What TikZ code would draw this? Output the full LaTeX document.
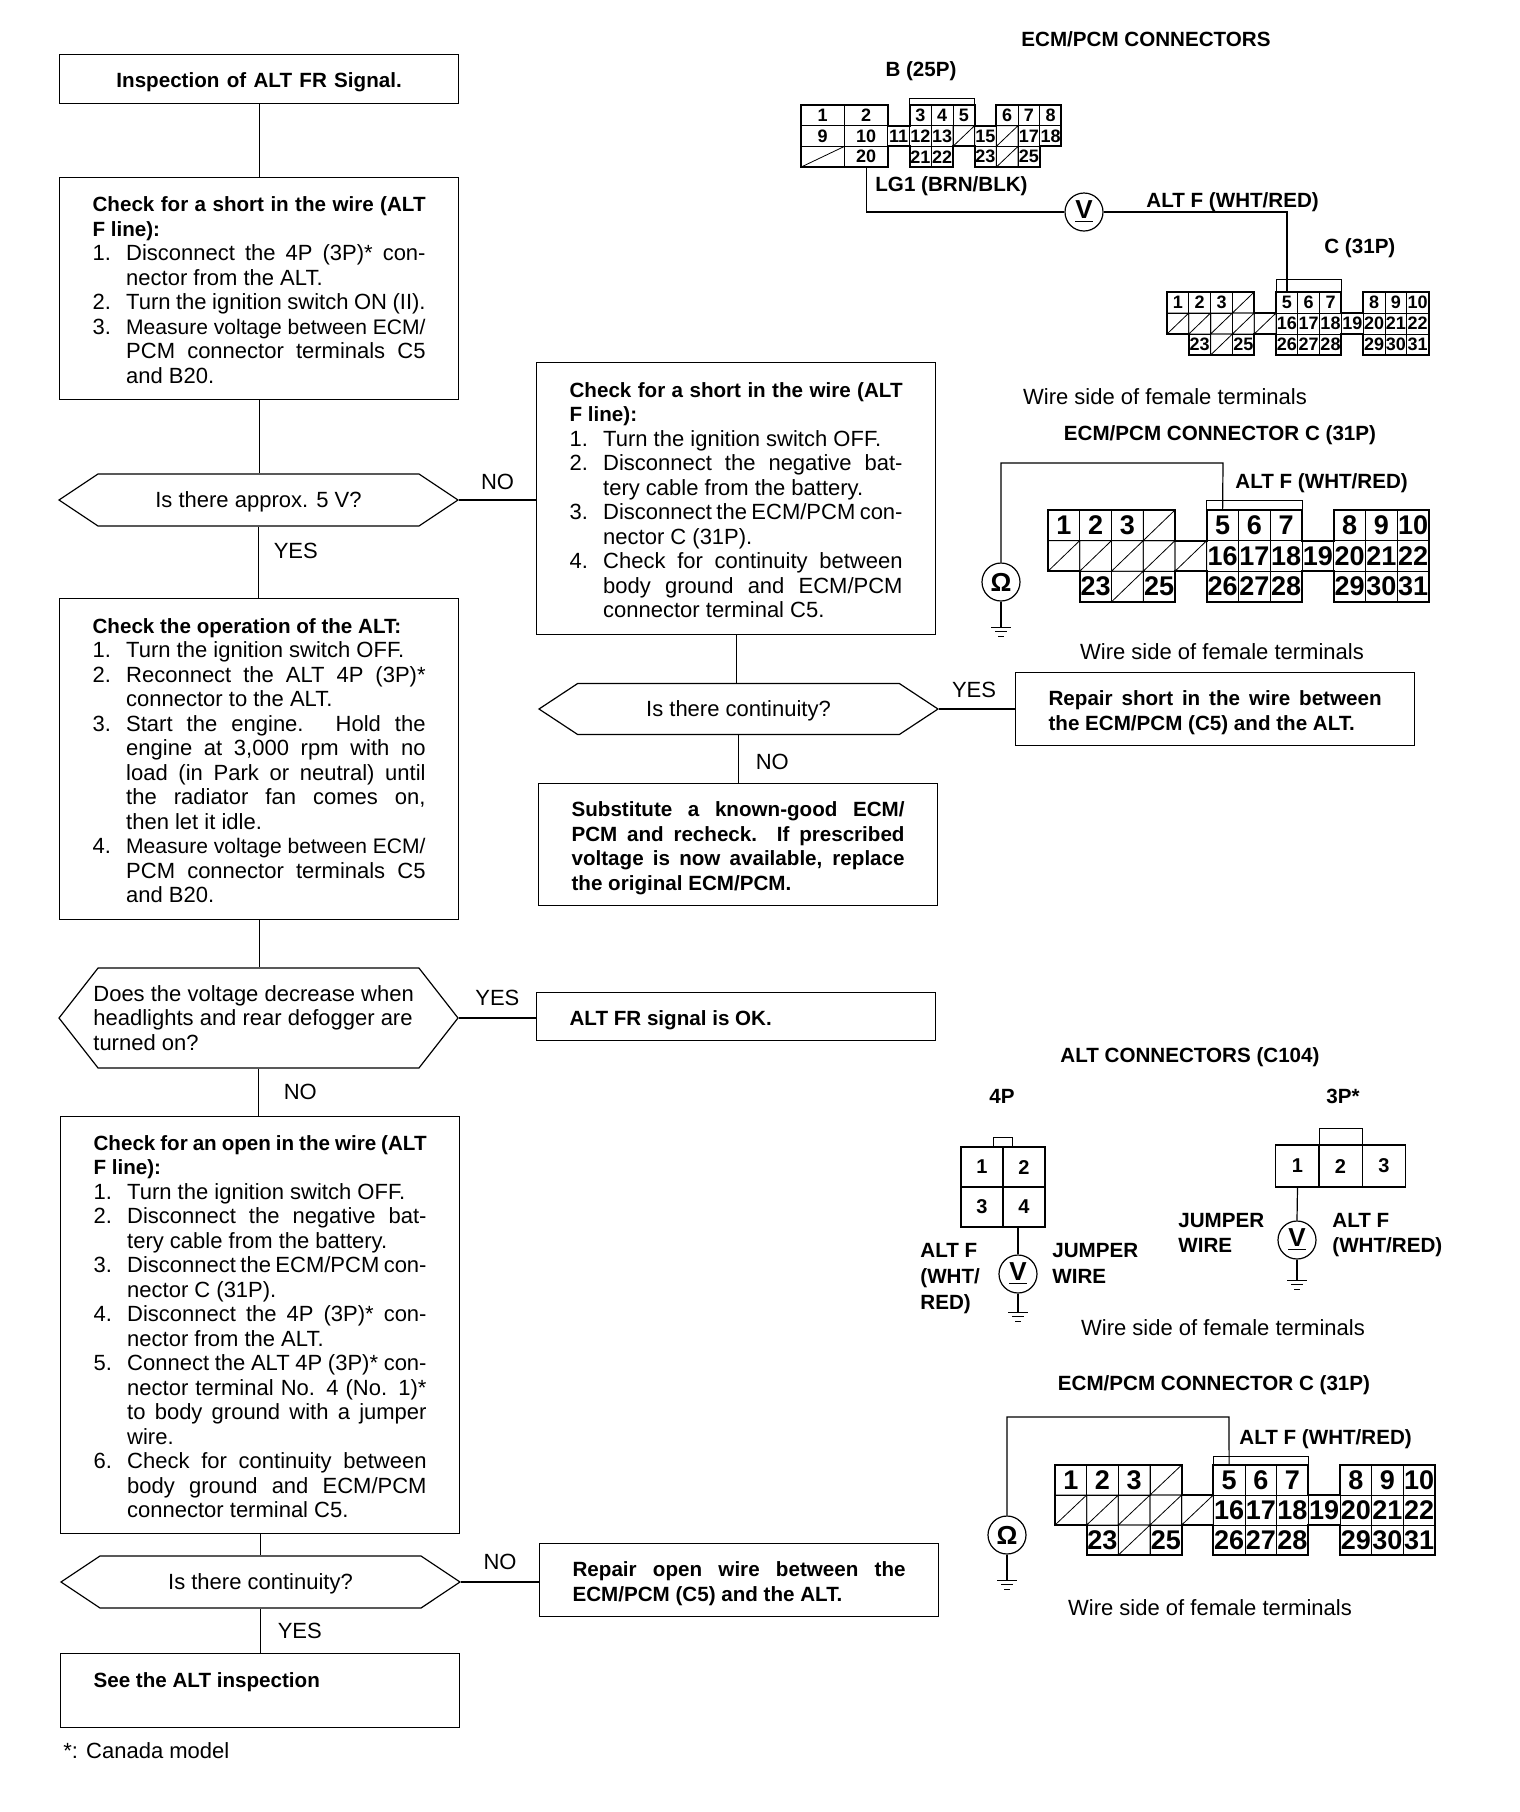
\documentclass[tikz,border=0pt]{standalone}
\usepackage{fontspec}
\setmainfont{Liberation Sans}
\usepackage{tikz}
\usetikzlibrary{calc,shapes.symbols}

\newcommand{\hdfont}{\fontsize{10.3}{12.25}\selectfont\bfseries}
\newcommand{\txtfont}{\fontsize{11}{12.25}\selectfont}
\newcommand{\stepline}[2]{\par\hangindent=16.8pt\hangafter=1\noindent\makebox[16.8pt][l]{#1}#2\par}
\newcommand{\fitline}[1]{\resizebox{149.7pt}{!}{#1}}
\newcommand{\gndsym}[1]{%
	\draw ([xshift=-5pt]#1) -- ([xshift=5pt]#1);
	\draw ([xshift=-3pt,yshift=-2.4pt]#1) -- ([xshift=3pt,yshift=-2.4pt]#1);
	\draw ([xshift=-1.5pt,yshift=-4.6pt]#1) -- ([xshift=1.5pt,yshift=-4.6pt]#1);
}
% prefix, left, top, cell width, row height, bump, font
\newcommand{\connC}[7]{%
	\begin{scope}[shift={(#2,#3)}, x=#4pt, y=-#5pt]
		\foreach \cx/\cy/\clab in {0/0/1,1/0/2,2/0/3,5/0/5,6/0/6,7/0/7,9/0/8,10/0/9,11/0/10,
			5/1/16,6/1/17,7/1/18,8/1/19,9/1/20,10/1/21,11/1/22,
			1/2/23,3/2/25,5/2/26,6/2/27,7/2/28,9/2/29,10/2/30,11/2/31}
			\node[pincell, minimum width=#4pt, minimum height=#5pt, font=#7] (#1\clab) at (\cx+0.5,\cy+0.5) {\clab};
		\foreach \cx/\cy in {3/0,0/1,1/1,2/1,3/1,4/1,2/2}
			\draw[pinline] (\cx,\cy) rectangle (\cx+1,\cy+1) (\cx,\cy+1) -- (\cx+1,\cy);
		\draw[pinedge] (0,0) -- (4,0) -- (4,1) -- (5,1) -- (5,0) -- (8,0) -- (8,1) -- (9,1) -- (9,0) -- (12,0)
			-- (12,3) -- (9,3) -- (9,2) -- (8,2) -- (8,3) -- (5,3) -- (5,2) -- (4,2) -- (4,3) -- (1,3) -- (1,2) -- (0,2) -- cycle;
		\draw[pinline] (5,0) -- ++(0,-#6) -- (8,-#6) -- (8,0);
	\end{scope}
}

\tikzset{
	flowbox/.style={draw, line width=0.6pt, anchor=north west, inner xsep=16.5pt, inner ysep=0pt, text width=166.5pt, align=justify, font=\txtfont, execute at begin node={\rule{0pt}{#1}}},
	flowbox/.default=11pt,
	hexbox/.style={draw, line width=0.6pt, signal, signal to=east and west, signal from=nowhere, inner sep=0pt, minimum width=199.5pt, text height=10pt, text depth=2.4pt, font=\txtfont},
	capt/.style={inner sep=0pt, font=\hdfont},
	plain/.style={inner sep=0pt, font=\txtfont},
	answer/.style={font=\txtfont},
	wire/.style={line width=0.6pt},
	pincell/.style={draw, line width=0.4pt, inner sep=0pt},
	pinline/.style={line width=0.4pt},
	pinedge/.style={line width=1pt},
	meter/.style={draw, circle, line width=0.6pt, minimum size=19pt, inner sep=0pt, font=\fontsize{13}{13}\selectfont\bfseries},
}

\begin{document}
\begin{tikzpicture}[x=0.5pt, y=-0.5pt]
	\useasboundingbox (0,0) rectangle (1520,1812);

	% left column
	\node[flowbox, minimum height=24.5pt, align=center] (inspect) at (59,54) {\hdfont Inspection of ALT FR Signal.};
	\node[flowbox=9pt, minimum height=111pt] (shortA) at (59,177) {{\hdfont Check for a short in the wire (ALT\linebreak F line):}
		\stepline{1.}{Disconnect the 4P (3P)* con-\linebreak nector from the ALT.}
		\stepline{2.}{Turn the ignition switch ON (II).}
		\stepline{3.}{\fitline{Measure voltage between ECM/}\linebreak PCM connector terminals C5\linebreak and B20.}};
	\node[hexbox, minimum height=26pt, signal pointer angle=67.4] (qVolt) at (258.5,500) {Is there approx. 5 V?};
	\node[flowbox=9pt, minimum height=160.5pt] (oper) at (59,598) {{\hdfont Check the operation of the ALT:}
		\stepline{1.}{Turn the ignition switch OFF.}
		\stepline{2.}{Reconnect the ALT 4P (3P)*\linebreak connector to the ALT.}
		\stepline{3.}{Start the engine. Hold the\linebreak engine at 3,000 rpm with no\linebreak load (in Park or neutral) until\linebreak the radiator fan comes on,\linebreak then let it idle.}
		\stepline{4.}{\fitline{Measure voltage between ECM/}\linebreak PCM connector terminals C5\linebreak and B20.}};
	\node[hexbox, minimum height=50pt, signal pointer angle=104] (qDrop) at (258.5,1018) {};
	\node[plain, anchor=west, align=left] (qDropText) at (93,1018) {Does the voltage decrease when\\headlights and rear defogger are\\turned on?};
	\node[flowbox=9pt, minimum height=208.5pt] (open) at (60,1116) {{\hdfont Check for an open in the wire (ALT\linebreak F line):}
		\stepline{1.}{Turn the ignition switch OFF.}
		\stepline{2.}{Disconnect the negative bat-\linebreak tery cable from the battery.}
		\stepline{3.}{Disconnect the ECM/PCM con-\linebreak nector C (31P).}
		\stepline{4.}{Disconnect the 4P (3P)* con-\linebreak nector from the ALT.}
		\stepline{5.}{Connect the ALT 4P (3P)* con-\linebreak nector terminal No. 4 (No. 1)*\linebreak to body ground with a jumper\linebreak wire.}
		\stepline{6.}{Check for continuity between\linebreak body ground and ECM/PCM\linebreak connector terminal C5.}};
	\node[hexbox, minimum height=26pt, signal pointer angle=67.4] (qOpen) at (260.5,1582) {Is there continuity?};
	\node[flowbox=13pt, minimum height=37pt] (altInsp) at (60,1653) {\hdfont See the ALT inspection\par\strut};
	\node[plain, anchor=west] (canada) at (63,1751) {*: Canada model};

	% middle column
	\node[flowbox=9pt, minimum height=136pt] (shortB) at (536,362) {{\hdfont Check for a short in the wire (ALT\linebreak F line):}
		\stepline{1.}{Turn the ignition switch OFF.}
		\stepline{2.}{Disconnect the negative bat-\linebreak tery cable from the battery.}
		\stepline{3.}{Disconnect the ECM/PCM con-\linebreak nector C (31P).}
		\stepline{4.}{Check for continuity between\linebreak body ground and ECM/PCM\linebreak connector terminal C5.}};
	\node[hexbox, minimum height=25.5pt, signal pointer angle=66.8] (qCont) at (738.5,709) {Is there continuity?};
	\node[flowbox, minimum height=36.5pt] (repS) at (1015,672) {\hdfont Repair short in the wire between\linebreak the ECM/PCM (C5) and the ALT.};
	\node[flowbox, minimum height=61pt] (subst) at (538,783) {\hdfont Substitute a known-good ECM/\linebreak PCM and recheck. If prescribed\linebreak voltage is now available, replace\linebreak the original ECM/PCM.};
	\node[flowbox, minimum height=24pt] (frOk) at (536,992) {\hdfont ALT FR signal is OK.};
	\node[flowbox, minimum height=36.5pt] (repO) at (539,1543) {\hdfont Repair open wire between the\linebreak ECM/PCM (C5) and the ALT.};

	\draw[wire] (inspect.south) -- (inspect.south |- shortA.north);
	\draw[wire] (shortA.south) -- (shortA.south |- qVolt.north);
	\draw[wire] (qVolt.south) -- (qVolt.south |- oper.north) node [pos=0.34, right=4pt, answer] {YES};
	\draw[wire] (qVolt.east) -- (qVolt.east -| shortB.west) node [pos=0.5, above=1.5pt, answer] {NO};
	\draw[wire] (oper.south) -- (oper.south |- qDrop.north);
	\draw[wire] (qDrop.south) -- (qDrop.south |- open.north) node [pos=0.5, right=9pt, answer] {NO};
	\draw[wire] (qDrop.east) -- (qDrop.east -| frOk.west) node [pos=0.5, above=2.5pt, answer] {YES};
	\draw[wire] (open.south) -- (open.south |- qOpen.north);
	\draw[wire] (qOpen.south) -- (qOpen.south |- altInsp.north) node [pos=0.5, right=5pt, answer] {YES};
	\draw[wire] (qOpen.east) -- (qOpen.east -| repO.west) node [pos=0.5, above=2.5pt, answer] {NO};
	\draw[wire] (shortB.south) -- (shortB.south |- qCont.north);
	\draw[wire] (qCont.south) -- (qCont.south |- subst.north) node [pos=0.56, right=5pt, answer] {NO};
	\draw[wire] (qCont.east) -- (qCont.east -| repS.west) node [pos=0.46, above=2pt, answer] {YES};

	% ECM/PCM connectors, B and C
	\node[capt] (ecmTitle) at (1146,39) {ECM/PCM CONNECTORS};
	\node[capt] (bTitle) at (921,71) {B (25P)};
	\begin{scope}[shift={(801,105)}, x=10.85pt, y=-10.35pt]
		\foreach \cx/\cy/\cw/\clab in {0/0/2/1,2/0/2/2,5/0/1/3,6/0/1/4,7/0/1/5,9/0/1/6,10/0/1/7,11/0/1/8,
			0/1/2/9,2/1/2/10,4/1/1/11,5/1/1/12,6/1/1/13,8/1/1/15,10/1/1/17,11/1/1/18,
			2/2/2/20,5/2/1/21,6/2/1/22,8/2/1/23,10/2/1/25}
			\node[pincell, minimum width=\cw*10.85pt, minimum height=10.35pt, font=\fontsize{9}{9}\selectfont\bfseries] (b\clab) at (\cx+\cw/2,\cy+0.5) {\clab};
		\foreach \cx/\cy/\cw in {7/1/1,9/1/1,0/2/2,9/2/1}
			\draw[pinline] (\cx,\cy) rectangle (\cx+\cw,\cy+1) (\cx,\cy+1) -- (\cx+\cw,\cy);
		\draw[pinedge] (0,0) -- (4,0) -- (4,1) -- (5,1) -- (5,0) -- (8,0) -- (8,1) -- (9,1) -- (9,0) -- (12,0) -- (12,2) -- (11,2) -- (11,3)
			-- (8,3) -- (8,2) -- (7,2) -- (7,3) -- (5,3) -- (5,2) -- (4,2) -- (4,3) -- (0,3) -- cycle;
		\draw[pinline] (5,0) -- (5,-0.3) -- (8,-0.3) -- (8,0);
	\end{scope}
	\connC{c}{1167}{292}{10.9}{10.5}{0.6}{\fontsize{9}{9}\selectfont\bfseries}
	\node[capt, anchor=west] (lgLabel) at (875,186) {LG1 (BRN/BLK)};
	\node[capt, anchor=west] (altA) at (1146,202) {ALT F (WHT/RED)};
	\node[capt, anchor=west] (cTitle) at (1324,248) {C (31P)};
	\node[meter] (vmA) at (1084,212) {\underline{V}};
	\draw[wire] (b20.south) |- (vmA.west);
	\draw[wire] (vmA.east) -| (c5.north);
	\node[plain] (sideA) at (1165,397) {Wire side of female terminals};

	% ECM/PCM connector C with ohmmeter
	\node[capt] (cTitleB) at (1220,435) {ECM/PCM CONNECTOR C (31P)};
	\connC{d}{1048}{510}{15.875}{15.3}{0.3}{\fontsize{13.5}{13.5}\selectfont\bfseries}
	\node[capt, anchor=west] (altB) at (1235,483) {ALT F (WHT/RED)};
	\node[meter] (omB) at (1001,582) {Ω};
	\coordinate (gndB) at (1001,627);
	\coordinate (topB) at (1223,463);
	\draw[wire] (omB.north) |- (topB) -- (d5.north);
	\draw[wire] (omB.south) -- (gndB);
	\gndsym{gndB}
	\node[plain] (sideB) at (1222,652) {Wire side of female terminals};

	% ALT connectors
	\node[capt] (altTitle) at (1190,1057) {ALT CONNECTORS (C104)};
	\node[capt] (fourP) at (1002,1096) {4P};
	\node[capt] (threeP) at (1343,1096) {3P*};
	\draw[pinline] (993,1147) -- (993,1137) -- (1012,1137) -- (1012,1147);
	\foreach \cx/\cy/\clab in {982/1167/1,1024/1167/2,982/1207/3,1024/1207/4}
		\node[pincell, line width=0.6pt, minimum width=21pt, minimum height=20pt, font=\fontsize{10}{10}\selectfont\bfseries] (fp\clab) at (\cx,\cy) {\clab};
	\node[meter] (vmF) at (1018,1274) {\underline{V}};
	\coordinate (gndF) at (1018,1312);
	\draw[wire] (fp4.south -| vmF) -- (vmF.north);
	\draw[wire] (vmF.south) -- (gndF);
	\gndsym{gndF}
	\node[capt, anchor=north west, align=left, font=\fontsize{10.3}{13}\selectfont\bfseries] (altFour) at (920,1243) {ALT F\\(WHT/\\RED)};
	\node[capt, anchor=north west, align=left, font=\fontsize{10.3}{13}\selectfont\bfseries] (jumpFour) at (1052,1243) {JUMPER\\WIRE};

	\draw[pinline] (1319,1145) -- (1319,1128) -- (1362,1128) -- (1362,1145);
	\foreach \cx/\clab in {1297.5/1,1340.5/2,1384/3}
		\node[pincell, line width=0.6pt, minimum width=21.7pt, minimum height=21pt, font=\fontsize{10}{10}\selectfont\bfseries] (tp\clab) at (\cx,1166) {\clab};
	\node[meter] (vmT) at (1297,1240) {\underline{V}};
	\coordinate (gndT) at (1297,1280);
	\draw[wire] (tp1.south) -- (vmT.north);
	\draw[wire] (vmT.south) -- (gndT);
	\gndsym{gndT}
	\node[capt, anchor=north west, align=left, font=\fontsize{10.3}{12.5}\selectfont\bfseries] (jumpThree) at (1178,1213) {JUMPER\\WIRE};
	\node[capt, anchor=north west, align=left, font=\fontsize{10.3}{12.5}\selectfont\bfseries] (altThree) at (1332,1213) {ALT F\\(WHT/RED)};
	\node[plain] (sideC) at (1223,1328) {Wire side of female terminals};

	% second ECM/PCM connector C with ohmmeter
	\node[capt] (cTitleC) at (1214,1385) {ECM/PCM CONNECTOR C (31P)};
	\connC{e}{1055}{1465}{15.83}{15}{0.3}{\fontsize{13.5}{13.5}\selectfont\bfseries}
	\node[capt, anchor=west] (altC) at (1239,1439) {ALT F (WHT/RED)};
	\node[meter] (omC) at (1007,1535) {Ω};
	\coordinate (gndC) at (1007,1580);
	\coordinate (topC) at (1229,1417);
	\draw[wire] (omC.north) |- (topC) -- (e5.north);
	\draw[wire] (omC.south) -- (gndC);
	\gndsym{gndC}
	\node[plain] (sideD) at (1210,1608) {Wire side of female terminals};
\end{tikzpicture}
\end{document}
